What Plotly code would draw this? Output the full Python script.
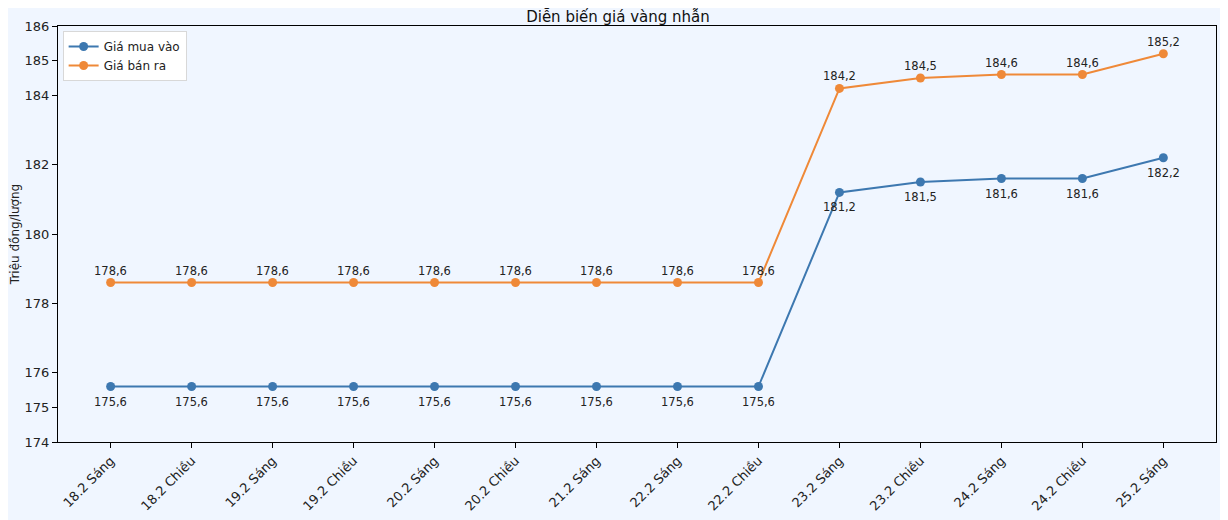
import plotly.graph_objects as go

# %%
sessions = [
    "18.2 Sáng", "18.2 Chiều", "19.2 Sáng", "19.2 Chiều", "20.2 Sáng",
    "20.2 Chiều", "21.2 Sáng", "22.2 Sáng", "22.2 Chiều", "23.2 Sáng",
    "23.2 Chiều", "24.2 Sáng", "24.2 Chiều", "25.2 Sáng",
]
gia_mua = [175.6, 175.6, 175.6, 175.6, 175.6, 175.6, 175.6, 175.6, 175.6,
           181.2, 181.5, 181.6, 181.6, 182.2]
gia_ban = [178.6, 178.6, 178.6, 178.6, 178.6, 178.6, 178.6, 178.6, 178.6,
           184.2, 184.5, 184.6, 184.6, 185.2]
y_ticks = [174, 175, 176, 178, 180, 182, 184, 185, 186]

BLUE = "#3d78b0"
ORANGE = "#ef8938"
BG = "#f0f6ff"
FONT = "DejaVu Sans"


def vn(v):
    return f"{v:.1f}".replace(".", ",")


x = list(range(len(sessions)))

fig = go.Figure()
fig.add_trace(go.Scatter(
    x=x, y=gia_mua, name="Giá mua vào", mode="lines+markers",
    line=dict(color=BLUE, width=2), marker=dict(size=9, color=BLUE),
))
fig.add_trace(go.Scatter(
    x=x, y=gia_ban, name="Giá bán ra", mode="lines+markers",
    line=dict(color=ORANGE, width=2), marker=dict(size=9, color=ORANGE),
))

# value labels: buy below the point, sell above
for xi, v in zip(x, gia_mua):
    fig.add_annotation(x=xi, y=v, text=vn(v), showarrow=False, yshift=-15,
                       font=dict(family=FONT, size=11.5, color="#222"))
for xi, v in zip(x, gia_ban):
    fig.add_annotation(x=xi, y=v, text=vn(v), showarrow=False, yshift=12,
                       font=dict(family=FONT, size=11.5, color="#222"))

fig.update_layout(
    width=1220, height=512,
    margin=dict(l=50, r=12, t=18, b=78, autoexpand=False),
    paper_bgcolor=BG, plot_bgcolor=BG,
    font=dict(family=FONT, size=13, color="#222"),
    title=dict(text="Diễn biến giá vàng nhẫn", x=0.5, xanchor="center",
               y=1, yref="paper", yanchor="bottom", pad=dict(b=4),
               font=dict(size=15, color="#111"), automargin=False),
    legend=dict(x=0.004, y=0.988, xanchor="left", yanchor="top",
                bgcolor="white", bordercolor="#d8d8d8", borderwidth=1,
                font=dict(size=12), tracegroupgap=0),
    showlegend=True,
)
fig.update_xaxes(
    range=[-0.65, len(sessions) - 0.35],
    tickvals=x, ticktext=sessions, tickangle=-45, automargin=False,
    showgrid=False, zeroline=False,
    showline=True, linecolor="black", linewidth=1.2, mirror=True,
    ticks="outside", ticklen=5, tickcolor="black",
)
fig.update_yaxes(
    range=[174, 186], tickvals=y_ticks, automargin=False,
    showgrid=False, zeroline=False,
    showline=True, linecolor="black", linewidth=1.2, mirror=True,
    ticks="outside", ticklen=5, tickcolor="black",
    title=dict(text="Triệu đồng/lượng", font=dict(size=12), standoff=4),
)

fig.write_html("out.html")
